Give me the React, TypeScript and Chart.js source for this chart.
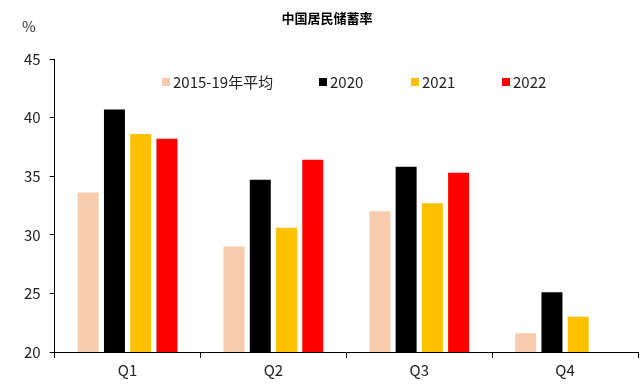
import React, { useEffect, useRef } from "react";
import { Chart, registerables } from "chart.js";

Chart.register(...registerables);

const categories = ["Q1", "Q2", "Q3", "Q4"];
const seriesNames = ["2015-19年平均", "2020", "2021", "2022"];
const avg1519 = [33.6, 29.0, 32.0, 21.6];
const v2020 = [40.7, 34.7, 35.8, 25.1];
const v2021 = [38.6, 30.6, 32.7, 23.0];
const v2022: (number | null)[] = [38.2, 36.4, 35.3, null];
const yTicks = [20, 25, 30, 35, 40, 45];
const titleText = "中国居民储蓄率";
const unitText = "%";

const colors = ["#F8CBAD", "#000000", "#FFC000", "#FF0000"];
const legendX = [162, 319, 411, 502];
const FONT = "'Noto Sans CJK SC', 'Noto Sans', sans-serif";

export default function App() {
  const ref = useRef<HTMLCanvasElement>(null);
  useEffect(() => {
    if (!ref.current) return;
    const textPlugin = {
      id: "extraText",
      afterDraw(chart: any) {
        const ctx = chart.ctx;
        ctx.save();
        ctx.fillStyle = "#000";
        ctx.font = `bold 13px ${FONT}`;
        ctx.textAlign = "center";
        ctx.textBaseline = "middle";
        ctx.fillText(titleText, 327, 18);
        ctx.fillStyle = "#333";
        ctx.font = `15px ${FONT}`;
        ctx.textAlign = "center";
        ctx.fillText(unitText, 29, 26);
        // legend
        ctx.textAlign = "left";
        chart.data.datasets.forEach((ds: any, i: number) => {
          const x = legendX[i];
          ctx.fillStyle = ds.backgroundColor;
          ctx.fillRect(x, 78, 8, 8);
          ctx.fillStyle = "#222";
          ctx.fillText(ds.label, x + 11, 82);
        });
        ctx.restore();
      },
    };
    const data = [avg1519, v2020, v2021, v2022];
    const chart = new Chart(ref.current, {
      type: "bar",
      data: {
        labels: categories,
        datasets: seriesNames.map((n, i) => ({
          label: n,
          data: data[i],
          backgroundColor: colors[i],
          borderWidth: 0,
          categoryPercentage: 0.72,
          barPercentage: 0.8,
        })),
      },
      options: {
        animation: false,
        responsive: false,
        maintainAspectRatio: false,
        layout: { padding: { top: 59, left: 15, right: 2, bottom: 2 } },
        plugins: {
          title: { display: false },
          tooltip: { enabled: false },
          legend: { display: false },
        },
        scales: {
          x: {
            grid: {
              display: true,
              drawOnChartArea: false,
              drawTicks: true,
              tickLength: 6,
              color: "#000",
            },
            border: { color: "#000", width: 1 },
            ticks: { color: "#222", font: { family: FONT, size: 15 }, padding: 3 },
          },
          y: {
            min: 20,
            max: 45,
            afterBuildTicks: (axis: any) => {
              axis.ticks = yTicks.map((v) => ({ value: v }));
            },
            grid: {
              display: true,
              drawOnChartArea: false,
              drawTicks: true,
              tickLength: 5,
              color: "#000",
            },
            border: { color: "#000", width: 1 },
            ticks: { color: "#222", font: { family: FONT, size: 15 }, padding: 9 },
          },
        },
      },
      plugins: [textPlugin],
    });
    return () => chart.destroy();
  }, []);
  return (
    <div style={{ position: "fixed", left: 0, top: 0, width: 640, height: 384, background: "#fff" }}>
      <canvas ref={ref} width={640} height={384} style={{ width: 640, height: 384 }} />
    </div>
  );
}
